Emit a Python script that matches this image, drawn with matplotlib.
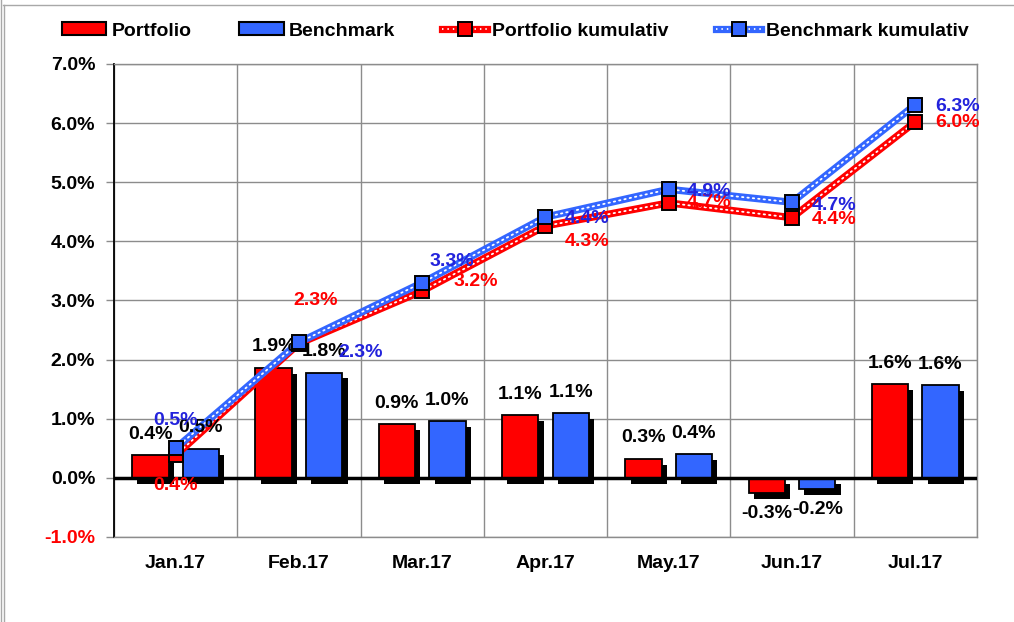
import numpy as np
import matplotlib
matplotlib.use('Agg')
import matplotlib.pyplot as plt
import matplotlib.patheffects as pe
from matplotlib.lines import Line2D
from matplotlib.patches import Patch
from matplotlib.legend_handler import HandlerTuple

plt.rcParams['font.family'] = ['Liberation Sans', 'DejaVu Sans']

# Daten (Prozent)
months = ['Jan.17', 'Feb.17', 'Mar.17', 'Apr.17', 'May.17', 'Jun.17', 'Jul.17']
portfolio = [0.38, 1.86, 0.91, 1.06, 0.32, -0.26, 1.58]
benchmark = [0.49, 1.78, 0.96, 1.09, 0.40, -0.19, 1.57]
portfolio_cum = [0.38, 2.27, 3.16, 4.26, 4.65, 4.40, 6.02]
benchmark_cum = [0.50, 2.29, 3.30, 4.41, 4.88, 4.66, 6.31]
y_ticks = [-1, 0, 1, 2, 3, 4, 5, 6, 7]

# Label-Versatz in Pixel (dx, dy)
pf_cum_off = [(0, -30), (17, 43), (54, 9), (42, -16), (40, 0), (42, -2), (42, -1)]
bm_cum_off = [(0, 28), (62, -10), (30, 21), (42, -1), (40, -2), (42, -3), (42, -2)]

RED = '#FF0000'
BLUE = '#3366FF'
BLUE_TXT = '#2323DC'
GRID = '#8c8c8c'
PX = 0.72  # Pixel -> Punkte bei 100 dpi
LW = 5.2

fig = plt.figure(figsize=(10.14, 6.22), dpi=100)
ax = fig.add_axes([0.1124, 0.1367, 0.851, 0.7605])

x = np.arange(len(months))
off, w = 0.205, 0.295
shadow = [pe.SimplePatchShadow(offset=(3.8, -4.2), shadow_rgbFace='black', alpha=1.0), pe.Normal()]

bars_p = ax.bar(x - off, portfolio, w, color=RED, edgecolor='black', linewidth=1.3, zorder=3)
bars_b = ax.bar(x + off, benchmark, w, color=BLUE, edgecolor='black', linewidth=1.3, zorder=3)
for b in list(bars_p) + list(bars_b):
    b.set_path_effects(shadow)

ax.axhline(0, color='black', lw=2.5, zorder=4)

# Balken-Beschriftung
for bars, vals in [(bars_p, portfolio), (bars_b, benchmark)]:
    for b, v in zip(bars, vals):
        dy = 21 if v >= 0 else -20
        ax.annotate(f'{v:.1f}%', xy=(b.get_x() + b.get_width() / 2, v),
                    xytext=(0, dy * PX), textcoords='offset points',
                    ha='center', va='center', fontsize=14, fontweight='bold',
                    color='black', zorder=6)

# Kumulative Linien
for vals, col in [(portfolio_cum, RED), (benchmark_cum, BLUE)]:
    ax.plot(x, vals, color=col, lw=LW, solid_capstyle='round', zorder=5)
    ax.plot(x, vals, color='white', lw=1.3, linestyle=(0, (0.8, 2.2)),
            dash_capstyle='round', zorder=5)
    ax.plot(x, vals, linestyle='none', marker='s', markersize=10,
            markerfacecolor=col, markeredgecolor='black', markeredgewidth=1.4, zorder=7)

for vals, offs, col in [(portfolio_cum, pf_cum_off, RED), (benchmark_cum, bm_cum_off, BLUE_TXT)]:
    for xi, v, (dx, dy) in zip(x, vals, offs):
        ax.annotate(f'{v:.1f}%', xy=(xi, v), xytext=(dx * PX, dy * PX),
                    textcoords='offset points', ha='center', va='center',
                    fontsize=14, fontweight='bold', color=col, zorder=8)

# Achsen
ax.set_xlim(-0.5, len(months) - 0.5)
ax.set_ylim(-1, 7)
ax.set_yticks(y_ticks)
ax.set_yticklabels([f'{t:.1f}%' for t in y_ticks], fontsize=14, fontweight='bold')
ax.get_yticklabels()[0].set_color(RED)
ax.tick_params(axis='y', length=6, width=1, color=GRID, pad=7.5)

ax.set_xticks(np.arange(len(months) + 1) - 0.5)
ax.set_xticklabels([])
ax.tick_params(axis='x', which='major', length=0)
ax.set_xticks(x, minor=True)
ax.set_xticklabels(months, minor=True, fontsize=14, fontweight='bold')
ax.tick_params(axis='x', which='minor', length=0, pad=13)

ax.grid(True, which='major', color=GRID, lw=1)
ax.set_axisbelow(True)
for s in ['top', 'right', 'bottom']:
    ax.spines[s].set_color(GRID)
    ax.spines[s].set_linewidth(1)
ax.spines['left'].set_color('black')
ax.spines['left'].set_linewidth(1.3)

# Legende
def line_handle(col):
    base = Line2D([], [], color=col, lw=LW)
    dots = Line2D([], [], color='white', lw=1.3, linestyle=(0, (0.8, 2.2)))
    mark = Line2D([], [], linestyle='none', marker='s', markersize=10,
                  markerfacecolor=col, markeredgecolor='black', markeredgewidth=1.4)
    return (base, dots, mark)

handles = [Patch(facecolor=RED, edgecolor='black', linewidth=1.5),
           Patch(facecolor=BLUE, edgecolor='black', linewidth=1.5),
           line_handle(RED), line_handle(BLUE)]
labels = ['Portfolio', 'Benchmark', 'Portfolio kumulativ', 'Benchmark kumulativ']
fig.legend(handles, labels, loc='center left', bbox_to_anchor=(52 / 1014, 1 - 31 / 622),
           bbox_transform=fig.transFigure, ncol=4, frameon=False, borderpad=0,
           handlelength=2.3, handleheight=0.6, handletextpad=0.25, columnspacing=2.45,
           prop={'size': 14, 'weight': 'bold'},
           handler_map={tuple: HandlerTuple(ndivide=1)})

# Rahmen
fig.add_artist(Line2D([3 / 1014, 1], [1 - 5 / 622, 1 - 5 / 622], color='#a8a8a8', lw=1,
                      transform=fig.transFigure))
fig.add_artist(Line2D([1 / 1014, 1 / 1014], [0, 1], color='#a8a8a8', lw=1,
                      transform=fig.transFigure))
fig.add_artist(Line2D([4 / 1014, 4 / 1014], [0, 1 - 5 / 622], color='#a8a8a8', lw=1,
                      transform=fig.transFigure))

fig.savefig('out.png', dpi=100)
